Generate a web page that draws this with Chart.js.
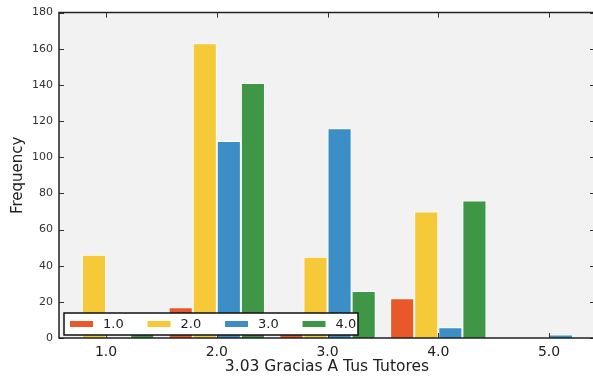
<!DOCTYPE html>
<html>
<head>
<meta charset="utf-8">
<script src="https://cdn.jsdelivr.net/npm/chart.js@4.4.1/dist/chart.umd.min.js"></script>
<style>
    html, body { margin: 0; padding: 0; background: #fff; overflow: hidden; }
    #wrap { position: relative; width: 600px; height: 378px; }
</style>
</head>
<body>
<div id="wrap"><canvas id="chart"></canvas></div>
<script>
// valores
const categories = [1, 2, 3, 4, 5];
const xTicks = [1, 2, 3, 4, 5];
const yTicks = [0, 20, 40, 60, 80, 100, 120, 140, 160, 180];
const seriesNames = ['1.0', '2.0', '3.0', '4.0'];
const serie1 = [0, 17, 3, 22, 0];
const serie2 = [46, 163, 45, 70, 0];
const serie3 = [0, 109, 116, 6, 2];
const serie4 = [3, 141, 26, 76, 0];
const cores = ['#e8582a', '#f5c938', '#3b8fc6', '#3f9746'];

Chart.defaults.font.family = "'DejaVu Sans', sans-serif";
Chart.defaults.color = '#333';

// fundo cinza da área do gráfico
const fundo = {
    id: 'fundo',
    beforeDraw(chart) {
        const { ctx, chartArea: a } = chart;
        ctx.save();
        ctx.fillStyle = '#f2f2f2';
        ctx.fillRect(a.left, a.top, a.right - a.left, a.bottom - a.top);
        ctx.restore();
    }
};

// moldura e ticks para dentro (estilo matplotlib)
const moldura = {
    id: 'moldura',
    afterDatasetsDraw(chart) {
        const { ctx, chartArea: a, scales } = chart;
        ctx.save();
        ctx.strokeStyle = '#333';
        ctx.lineWidth = 1;
        xTicks.forEach(v => {
            const x = Math.round(scales.x.getPixelForValue(v)) + 0.5;
            ctx.beginPath();
            ctx.moveTo(x, a.top); ctx.lineTo(x, a.top + 5);
            ctx.moveTo(x, a.bottom); ctx.lineTo(x, a.bottom - 5);
            ctx.stroke();
        });
        yTicks.forEach(v => {
            const y = Math.round(scales.y.getPixelForValue(v)) + 0.5;
            ctx.beginPath();
            ctx.moveTo(a.left, y); ctx.lineTo(a.left + 5, y);
            ctx.moveTo(a.right, y); ctx.lineTo(a.right - 5, y);
            ctx.stroke();
        });
        ctx.strokeStyle = '#222';
        ctx.lineWidth = 1.5;
        ctx.beginPath();
        ctx.moveTo(a.right, a.top); ctx.lineTo(a.left, a.top);
        ctx.lineTo(a.left, a.bottom); ctx.lineTo(a.right, a.bottom);
        ctx.stroke();
        ctx.restore();
    }
};

// legenda dentro do gráfico, canto inferior esquerdo
const legenda = {
    id: 'legenda',
    afterDraw(chart) {
        const { ctx, chartArea: a } = chart;
        const bx = a.left + 5, by = a.bottom - 25, bw = 294, bh = 22;
        ctx.save();
        ctx.fillStyle = '#fff';
        ctx.fillRect(bx, by, bw, bh);
        ctx.strokeStyle = '#111';
        ctx.lineWidth = 1.5;
        ctx.strokeRect(bx, by, bw, bh);
        ctx.font = "13px 'DejaVu Sans'";
        ctx.textBaseline = 'middle';
        chart.data.datasets.forEach((ds, i) => {
            const sx = bx + 6 + i * 77.5;
            const cy = by + bh / 2;
            ctx.fillStyle = ds.backgroundColor;
            ctx.fillRect(sx, cy - 3, 23, 6);
            ctx.fillStyle = '#222';
            ctx.fillText(ds.label, sx + 33, cy + 1);
        });
        ctx.restore();
    }
};

const series = [serie1, serie2, serie3, serie4];

new Chart(document.getElementById('chart'), {
    type: 'bar',
    data: {
        datasets: series.map((vals, i) => ({
            label: seriesNames[i],
            data: categories.map((c, j) => ({ x: c, y: vals[j] })),
            backgroundColor: cores[i],
            borderColor: '#ffffff',
            borderWidth: 1,
            categoryPercentage: 0.87,
            barPercentage: 1.0
        }))
    },
    options: {
        responsive: true,
        maintainAspectRatio: false,
        animation: false,
        layout: { padding: { left: 0, top: 12, right: 5, bottom: 0 } },
        plugins: {
            legend: { display: false },
            tooltip: { enabled: false }
        },
        scales: {
            x: {
                type: 'linear',
                offset: false,
                min: 0.575,
                max: 5.415,
                afterBuildTicks: s => { s.ticks = xTicks.map(v => ({ value: v })); },
                afterFit: s => { s.height = 40; },
                grid: { display: false, drawTicks: false, offset: false },
                border: { display: false },
                ticks: {
                    padding: 6,
                    font: { size: 14 },
                    color: '#222',
                    callback: v => v.toFixed(1)
                },
                title: {
                    display: true,
                    text: '3.03 Gracias A Tus Tutores',
                    font: { size: 15.5 },
                    color: '#222',
                    padding: { top: 0, bottom: 2 }
                }
            },
            y: {
                min: 0,
                max: 180,
                afterBuildTicks: s => { s.ticks = yTicks.map(v => ({ value: v })); },
                afterFit: s => { s.width = 59; },
                grid: { display: false, drawTicks: false },
                border: { display: false },
                ticks: { padding: 6, font: { size: 11 }, color: '#333' },
                title: {
                    display: true,
                    text: 'Frequency',
                    font: { size: 15 },
                    color: '#222',
                    padding: { top: 9, bottom: 0 }
                }
            }
        }
    },
    plugins: [fundo, moldura, legenda]
});
</script>
</body>
</html>
